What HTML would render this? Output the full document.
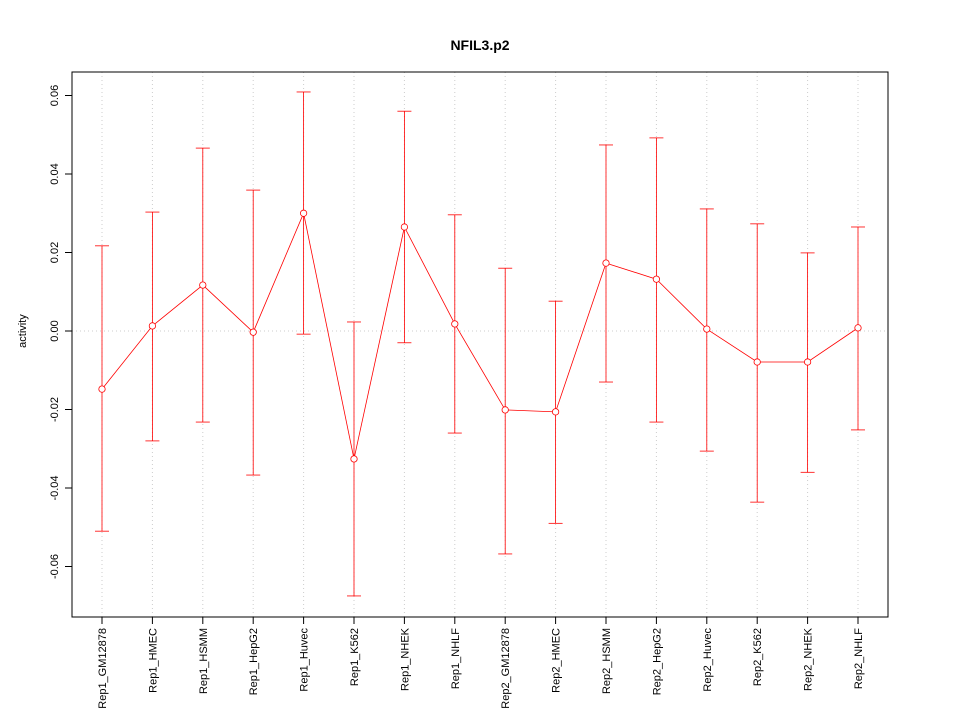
<!DOCTYPE html>
<html><head><meta charset="utf-8"><style>
html,body{margin:0;padding:0;background:#fff;}
svg text{font-family:"Liberation Sans",sans-serif;}
</style></head><body>
<svg id="chart" width="960" height="720" xmlns="http://www.w3.org/2000/svg">
<rect x="0" y="0" width="960" height="720" fill="#fff"/>
<text x="480" y="50" text-anchor="middle" font-size="14" font-weight="bold">NFIL3.p2</text>
<text transform="translate(26,331) rotate(-90)" text-anchor="middle" font-size="11">activity</text>
<g id="grid"></g><g id="axes"></g><g id="marks"></g>
<rect x="72" y="72" width="816" height="545" fill="none" stroke="#000"/>
</svg>
<script>
const categories=["Rep1_GM12878","Rep1_HMEC","Rep1_HSMM","Rep1_HepG2","Rep1_Huvec","Rep1_K562","Rep1_NHEK","Rep1_NHLF","Rep2_GM12878","Rep2_HMEC","Rep2_HSMM","Rep2_HepG2","Rep2_Huvec","Rep2_K562","Rep2_NHEK","Rep2_NHLF"];
const values=[-0.0148,0.0013,0.0117,-0.0003,0.030,-0.0326,0.0265,0.0018,-0.0201,-0.0206,0.0173,0.0132,0.0005,-0.0079,-0.0079,0.0008];
const upper=[0.0217,0.0303,0.0466,0.0359,0.0609,0.0023,0.056,0.0296,0.016,0.0076,0.0474,0.0492,0.0311,0.0273,0.0199,0.0265];
const lower=[-0.051,-0.028,-0.0232,-0.0367,-0.0008,-0.0675,-0.003,-0.026,-0.0568,-0.049,-0.013,-0.0232,-0.0306,-0.0436,-0.036,-0.0252];
const yTicks=[-0.06,-0.04,-0.02,0.00,0.02,0.04,0.06];
const yTickLabels=["-0.06","-0.04","-0.02","0.00","0.02","0.04","0.06"];
const NS="http://www.w3.org/2000/svg";
function x(i){return 102+i*(858-102)/(categories.length-1);}
function y(v){return 331-v*3925;}
function mk(tag,attrs,parent){const e=document.createElementNS(NS,tag);for(const k in attrs)e.setAttribute(k,attrs[k]);document.getElementById(parent).appendChild(e);return e;}
let e;
categories.forEach((c,i)=>{
 e=mk("line",{x1:x(i),x2:x(i),y1:72,y2:617,stroke:"#ccc","stroke-dasharray":"1,3"},"grid");
 
 
 e=mk("line",{x1:x(i),x2:x(i),y1:617,y2:624,stroke:"#000"},"axes");
 
 
 e=mk("text",{transform:`translate(${x(i)+4},628) rotate(-90)`,"text-anchor":"end","font-size":"11"},"axes");
 e.textContent=c;
 
 
});
e=mk("line",{x1:72,x2:888,y1:y(0),y2:y(0),stroke:"#ccc","stroke-dasharray":"1,3"},"grid");


e=mk("line",{x1:72,x2:72,y1:y(yTicks[0]),y2:y(yTicks[yTicks.length-1]),stroke:"#000"},"axes");


yTicks.forEach((t,i)=>{
 e=mk("line",{x1:65,x2:72,y1:y(t),y2:y(t),stroke:"#000"},"axes");
 
 
 e=mk("text",{transform:`translate(58,${y(t)}) rotate(-90)`,"text-anchor":"middle","font-size":"11"},"axes");
 e.textContent=yTickLabels[i];
 
 
});
categories.forEach((c,i)=>{
 e=mk("line",{x1:x(i),x2:x(i),y1:y(upper[i]),y2:y(lower[i]),stroke:"#f00","stroke-width":"0.8"},"marks");
 
 
 [upper[i],lower[i]].forEach(v=>{
  e=mk("line",{x1:x(i)-7,x2:x(i)+7,y1:y(v),y2:y(v),stroke:"#f00","stroke-width":"0.8"},"marks");
  
  
 });
});
e=mk("polyline",{points:values.map((v,i)=>x(i)+","+y(v)).join(" "),fill:"none",stroke:"#f00","stroke-width":"0.8"},"marks");


values.forEach((v,i)=>{
 e=mk("circle",{cx:x(i),cy:y(v),r:3.2,fill:"#fff",stroke:"#f00","stroke-width":"0.8"},"marks");
 
 
});
</script>
</body></html>
